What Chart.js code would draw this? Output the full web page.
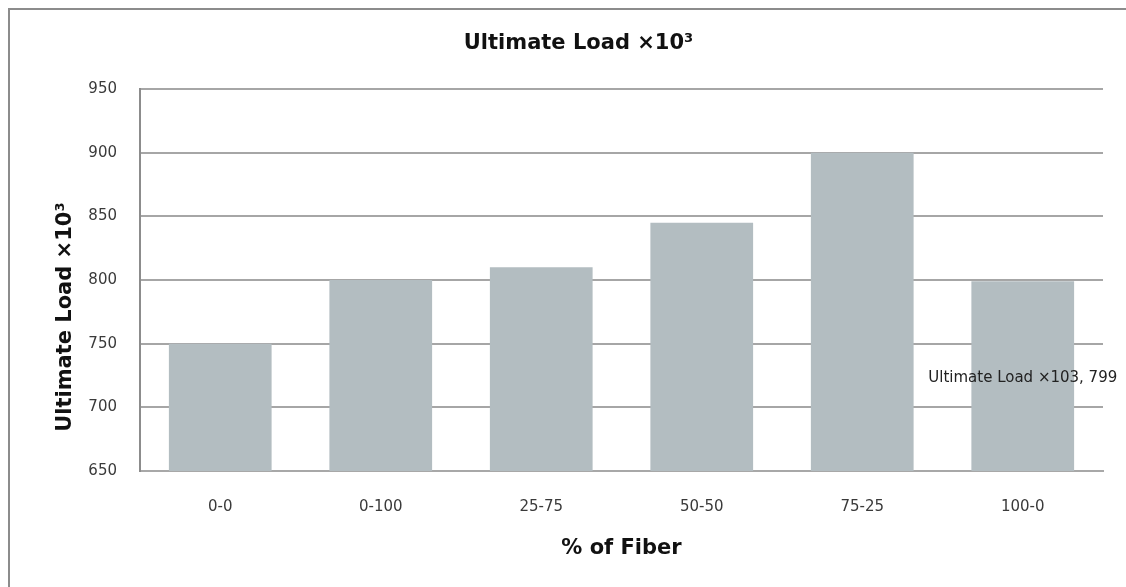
<!DOCTYPE html>
<html>
<head>
<meta charset="utf-8">
<script src="https://cdn.jsdelivr.net/npm/chart.js@4"></script>
<style>
  html, body { margin: 0; padding: 0; background: #fff; }
  #wrap { position: relative; width: 1126px; height: 587px; overflow: hidden; }
  #frame {
    position: absolute; left: 8px; top: 8px; right: -4px; bottom: -4px;
    border-left: 2px solid #8c8c8c; border-top: 2px solid #8c8c8c;
  }
  #chart { position: absolute; left: 0; top: 0; }
</style>
</head>
<body>
<div id="wrap">
  <div id="frame"></div>
  <canvas id="chart" width="1126" height="587"></canvas>
</div>
<script>
const categories = ["0-0", "0-100", "25-75", "50-50", "75-25", "100-0"];
const loads = [750, 800, 810, 845, 900, 799];
const yTicks = [650, 700, 750, 800, 850, 900, 950];
const labelledIndex = 5;
const yTitle = "Ultimate Load \u00d710\u00b3";

// value label on the last bar + the y axis title (sits a bit below centre in the original)
const extraText = {
  id: "extraText",
  afterDraw(chart) {
    const ctx = chart.ctx;
    const area = chart.chartArea;
    const xs = chart.scales.x;
    const ys = chart.scales.y;
    const cx = xs.getPixelForValue(labelledIndex);
    const top = ys.getPixelForValue(loads[labelledIndex]);
    const base = ys.getPixelForValue(yTicks[0]);

    ctx.save();
    ctx.font = "15px 'DejaVu Sans'";
    ctx.fillStyle = "#222";
    ctx.textAlign = "center";
    ctx.textBaseline = "middle";
    ctx.fillText("Ultimate Load \u00d7103, " + loads[labelledIndex], cx, (top + base) / 2 + 2);

    ctx.translate(area.left - 74, (area.top + area.bottom) / 2 + 37);
    ctx.rotate(-Math.PI / 2);
    ctx.font = "bold 21px 'DejaVu Sans'";
    ctx.fillStyle = "#111";
    ctx.fillText(yTitle, 0, 0);
    ctx.restore();
  }
};

new Chart(document.getElementById("chart").getContext("2d"), {
  type: "bar",
  data: {
    labels: categories,
    datasets: [{
      label: yTitle,
      data: loads,
      backgroundColor: "#b3bdc1",
      borderWidth: 0,
      barPercentage: 0.64,
      categoryPercentage: 1,
    }],
  },
  options: {
    responsive: false,
    animation: false,
    layout: { padding: { left: 54, right: 23, top: 20, bottom: 20 } },
    plugins: {
      legend: { display: false },
      tooltip: { enabled: false },
      title: {
        display: true,
        text: "Ultimate Load \u00d710\u00b3",
        color: "#111",
        font: { family: "'DejaVu Sans'", size: 21, weight: "bold" },
        padding: { top: 11, bottom: 33 },
      },
    },
    scales: {
      x: {
        afterFit(scale) { scale.height = 96; },
        grid: { display: false, drawTicks: false },
        border: { color: "#a8a8a8", width: 2 },
        ticks: {
          color: "#3a3a3a",
          font: { family: "'DejaVu Sans'", size: 15 },
          padding: 27,
        },
        title: {
          display: true,
          text: "% of Fiber",
          color: "#111",
          font: { family: "'DejaVu Sans'", size: 21, weight: "bold" },
          padding: { top: 0, bottom: 6 },
        },
      },
      y: {
        min: yTicks[0],
        max: yTicks[yTicks.length - 1],
        afterFit(scale) { scale.width = 86; },
        afterBuildTicks(scale) { scale.ticks = yTicks.map(v => ({ value: v })); },
        grid: { color: "#a6a6a6", lineWidth: 2, drawTicks: false },
        border: { color: "#8c8c8c", width: 2 },
        ticks: {
          color: "#3a3a3a",
          font: { family: "'DejaVu Sans'", size: 15 },
          padding: 23,
        },
      },
    },
  },
  plugins: [extraText],
});
</script>
</body>
</html>
